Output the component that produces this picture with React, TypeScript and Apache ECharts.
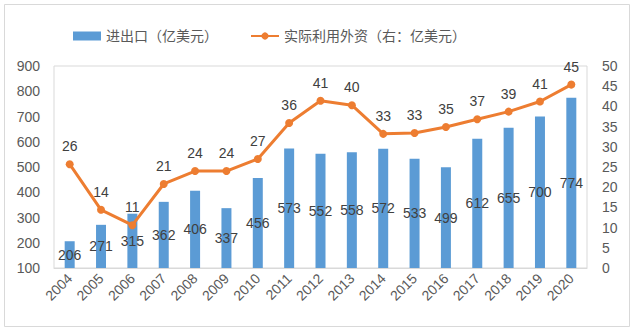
import React, { useEffect, useRef } from "react";
import * as echarts from "echarts";

const years = ["2004","2005","2006","2007","2008","2009","2010","2011","2012","2013","2014","2015","2016","2017","2018","2019","2020"];
const tradeValues = [206, 271, 315, 362, 406, 337, 456, 573, 552, 558, 572, 533, 499, 612, 655, 700, 774];
const fdiValues = [25.7, 14.4, 10.6, 20.8, 24.0, 24.0, 27.0, 35.9, 41.4, 40.3, 33.2, 33.4, 34.9, 36.8, 38.7, 41.2, 45.4];
const barName = "进出口（亿美元）";
const lineName = "实际利用外资（右：亿美元）";

const FONT = "'Liberation Sans', 'Noto Sans CJK SC', sans-serif";
const TXT = "#595959";

export default function App() {
  const ref = useRef<HTMLDivElement>(null);
  useEffect(() => {
    if (!ref.current) return;
    const chart = echarts.init(ref.current, null, { renderer: "svg" });
    chart.setOption({
      animation: false,
      textStyle: { fontFamily: FONT },
      graphic: [
        {
          type: "rect",
          shape: { x: 4.5, y: 4.5, width: 625, height: 322 },
          style: { fill: "none", stroke: "#d9d9d9", lineWidth: 1 },
          silent: true,
        },
      ],
      legend: {
        top: 24,
        left: 68,
        itemGap: 32,
        itemWidth: 28,
        itemHeight: 9,
        textStyle: { fontSize: 14, color: TXT, fontFamily: FONT },
        data: [
          { name: barName, icon: "rect" },
          { name: lineName },
        ],
      },
      grid: {
        left: 54,
        right: 49,
        top: 66,
        bottom: 64,
        show: true,
        borderColor: "#d9d9d9",
        borderWidth: 1,
      },
      xAxis: {
        type: "category",
        data: years,
        axisLine: { lineStyle: { color: "#d9d9d9" } },
        axisTick: { show: false },
        axisLabel: { rotate: 45, fontSize: 14, color: TXT, margin: 8, interval: 0 },
      },
      yAxis: [
        {
          type: "value",
          min: 100,
          max: 900,
          interval: 100,
          splitLine: { show: false },
          axisLine: { show: false },
          axisTick: { show: false },
          axisLabel: { fontSize: 14, color: TXT, margin: 14 },
        },
        {
          type: "value",
          min: 0,
          max: 50,
          interval: 5,
          splitLine: { show: false },
          axisLine: { show: false },
          axisTick: { show: false },
          axisLabel: { fontSize: 14, color: TXT, margin: 15 },
        },
      ],
      series: [
        {
          name: barName,
          type: "bar",
          data: tradeValues,
          barWidth: 10,
          itemStyle: { color: "#5B9BD5" },
          label: {
            show: true,
            position: "inside",
            fontSize: 14,
            color: "#404040",
          },
        },
        {
          name: lineName,
          type: "line",
          yAxisIndex: 1,
          data: fdiValues,
          symbol: "circle",
          symbolSize: 8,
          lineStyle: { color: "#ED7D31", width: 3 },
          itemStyle: { color: "#ED7D31" },
          label: {
            show: true,
            position: "top",
            distance: 7,
            fontSize: 14,
            color: "#404040",
            formatter: (p: any) => String(Math.round(p.value)),
          },
        },
      ],
    });
    return () => chart.dispose();
  }, []);
  return (
    <div
      ref={ref}
      style={{ position: "fixed", left: 0, top: 0, width: 636, height: 332, background: "#fff" }}
    />
  );
}
